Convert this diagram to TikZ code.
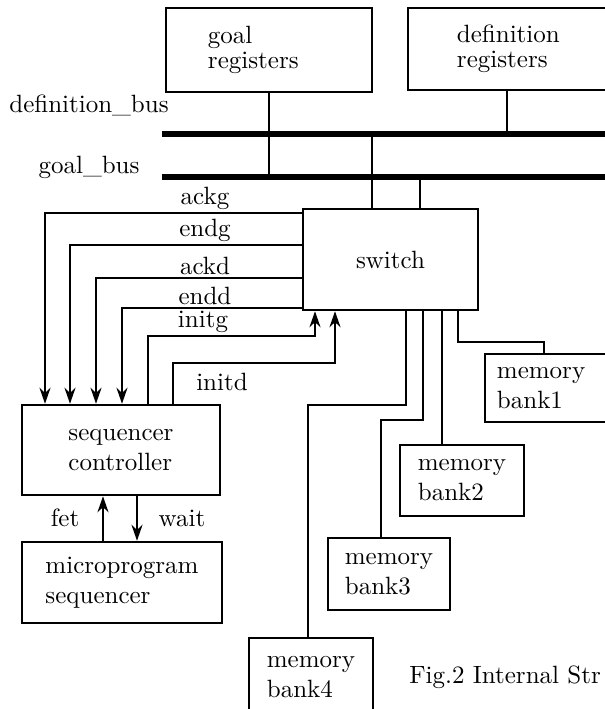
\documentclass[tikz,border=0pt]{standalone}
\usetikzlibrary{arrows.meta}

\tikzset{
  box/.style={draw, line width=1pt, align=left, inner sep=0pt},
  sig/.style={inner sep=1pt},
  bus/.style={line width=2.4pt},
}

\begin{document}
\begin{tikzpicture}[x=0.4pt,y=-0.4pt,line width=0.9pt,>={Stealth[length=6.4pt,width=4.4pt]}]
\useasboundingbox (0,0) rectangle (605,709);
\clip (0,0) rectangle (605,709);
% 寄存器
\node[box,minimum width=82.4pt,minimum height=33.6pt,text width=48.8pt,inner xsep=16.8pt]
  (goalreg) at (269,50) {goal\\[-2pt]registers};
\node[box,minimum width=100.8pt,minimum height=32.8pt,text width=61.6pt,inner xsep=19.6pt]
  (defreg) at (534,49) {definition\\[-2pt]registers};
% 两条总线
\coordinate (dbusW) at (162,134); \coordinate (dbusE) at (612,134);
\coordinate (gbusW) at (162,177); \coordinate (gbusE) at (612,177);
\draw[bus] (dbusW) -- (dbusE);
\draw[bus] (gbusW) -- (gbusE);
\node (dbuslbl) at (89,105) {definition\_bus};
\node (gbuslbl) at (89,167) {goal\_bus};
% switch 与各模块
\node[box,minimum width=70pt,minimum height=40.4pt,align=center] (sw) at (390.5,259.5) {switch};
\node[box,minimum width=79.2pt,minimum height=36pt] (seqctl) at (121,450) {sequencer\\controller};
\node[box,minimum width=80pt,minimum height=32.4pt] (micro) at (122,582.5) {microprogram\\sequencer};
\node[box,minimum width=66pt,minimum height=27.2pt,text width=56.4pt,inner xsep=4.8pt]
  (bank1) at (567.5,388) {memory\\bank1};
\node[box,minimum width=49.6pt,minimum height=28.4pt] (bank2) at (462,480.5) {memory\\bank2};
\node[box,minimum width=48.8pt,minimum height=28.8pt] (bank3) at (389,574) {memory\\bank3};
\node[box,minimum width=49.6pt,minimum height=31.2pt] (bank4) at (311,677) {memory\\bank4};
% 寄存器接总线
\draw (goalreg.south) -- (goalreg.south |- gbusW);
\coordinate (dtap) at (507,134);
\draw (dtap |- defreg.south) -- (dtap);
\coordinate (swd) at (372,134);
\coordinate (swg) at (420,177);
\draw (swd) -- (swd |- sw.north);
\draw (swg) -- (swg |- sw.north);
% switch -> sequencer controller
\foreach \nm/\y/\x in {ackg/213/45,endg/245/70,ackd/278/96,endd/308/122}{
  \draw[->] (sw.west |- 0,\y) -- (\x,\y) -- (\x,0 |- seqctl.north);
  \node[sig,above] (lbl-\nm) at (205,\y) {\nm};
}
% sequencer controller -> switch
\draw[->] (148,0 |- seqctl.north) -- (148,336) -- (315,336) -- (315,0 |- sw.south);
\draw[->] (173,0 |- seqctl.north) -- (173,363) -- (335,363) -- (335,0 |- sw.south);
\node[sig,above] (lbl-initg) at (203,336) {initg};
\node (lbl-initd) at (222,382) {initd};
% 存储体连线
\draw (406,0 |- sw.south) -- (406,405) -- (308,405) -- (308,0 |- bank4.north);
\draw (423,0 |- sw.south) -- (423,420) -- (381,420) -- (381,0 |- bank3.north);
\draw (442,0 |- sw.south) -- (442,0 |- bank2.north);
\draw (458,0 |- sw.south) -- (458,342) -- (544,342) -- (544,0 |- bank1.north);
% fet / wait
\draw[->] (103,0 |- micro.north) -- (103,0 |- seqctl.south);
\draw[->] (137,0 |- seqctl.south) -- (137,0 |- micro.north);
\node (lbl-fet) at (65,518) {fet};
\node (lbl-wait) at (182,518) {wait};
% 图题
\node[anchor=east,inner sep=0pt] (cap) at (602,677) {Fig.2 Internal Str};
\end{tikzpicture}
\end{document}
